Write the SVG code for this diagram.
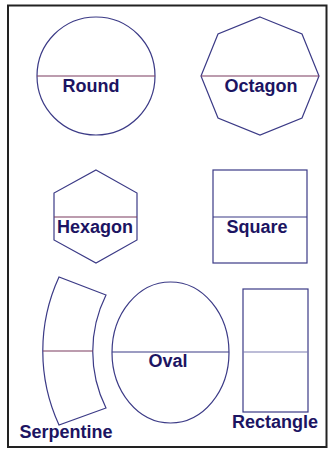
<svg xmlns="http://www.w3.org/2000/svg" width="328" height="449" viewBox="0 0 328 449">
<style>
.s{fill:none;stroke:#3b3a86;stroke-width:1.2}
.mr{stroke:#7a3a5e;stroke-width:1.2}
.mb{stroke:#3b3a86;stroke-width:1.2}
.ml{stroke:#7a7ab0;stroke-width:1.2}
text{font-family:"Liberation Sans",Arial,sans-serif;font-weight:bold;font-size:18px;fill:#1c1462;text-anchor:middle}
</style>
<rect width="328" height="449" fill="#fff"/>
<rect x="8" y="5.5" width="318.5" height="441.5" fill="none" stroke="#222" stroke-width="2"/>
<g id="round">
<circle class="s" cx="96" cy="76" r="59"/>
<line class="mr" x1="37" y1="76" x2="155" y2="76"/>
<text x="91" y="92">Round</text>
</g>
<g id="octagon">
<polygon class="s" points="260,17 302,34 319,76 302,118 260,135 218,118 201,76 218,34"/>
<line class="mr" x1="201" y1="76" x2="319" y2="76"/>
<text x="261" y="92">Octagon</text>
</g>
<g id="hexagon">
<polygon class="s" points="96,170 137,193 137,240 96,263 54,240 54,193"/>
<line class="mr" x1="54" y1="217" x2="137" y2="217"/>
<text x="95" y="233">Hexagon</text>
</g>
<g id="square">
<rect class="s" x="213" y="170" width="94" height="93"/>
<line class="mb" x1="213" y1="217" x2="307" y2="217"/>
<text x="257" y="233">Square</text>
</g>
<g id="serpentine">
<path class="s" d="M59,277 A177,177 0 0 0 59,425 L106,408 A127,127 0 0 1 106,295 Z"/>
<line class="mr" x1="43" y1="351" x2="93" y2="351"/>
<text x="66" y="438">Serpentine</text>
</g>
<g id="oval">
<ellipse class="s" cx="170.5" cy="352.5" rx="58.5" ry="70.5"/>
<line class="mb" x1="112" y1="352" x2="229" y2="352"/>
<text x="168" y="367">Oval</text>
</g>
<g id="rectangle">
<rect class="s" x="243" y="289" width="65" height="123"/>
<line class="ml" x1="243" y1="352" x2="308" y2="352"/>
<text x="275" y="428">Rectangle</text>
</g>
<g id="connectors"/>
</svg>
